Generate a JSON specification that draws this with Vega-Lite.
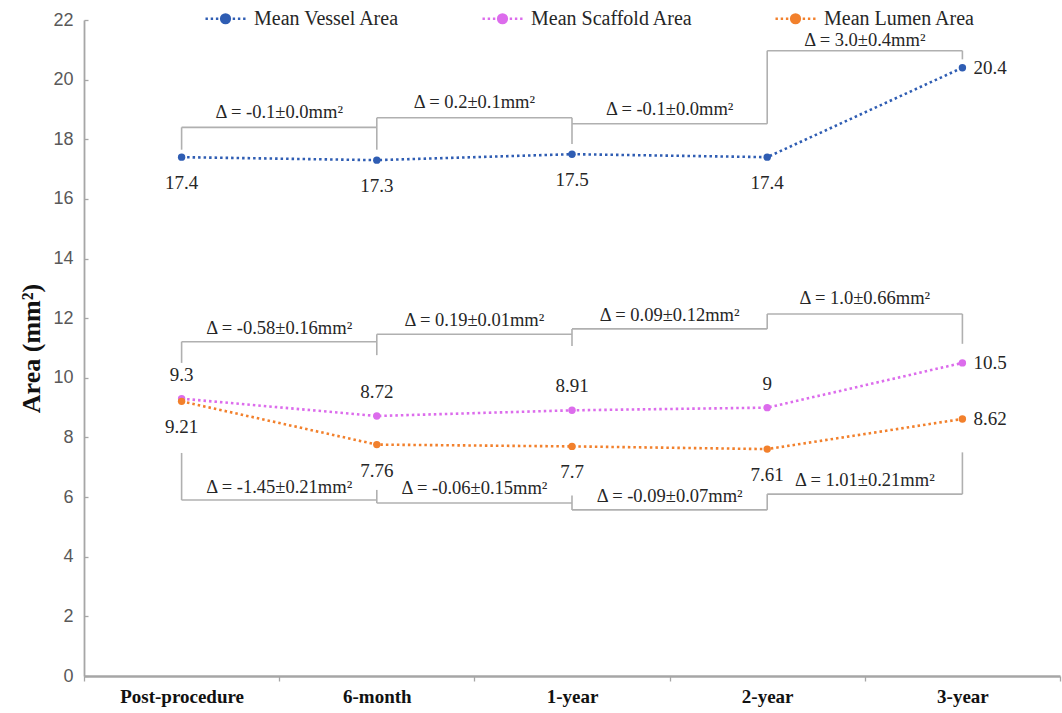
{
  "$schema": "https://vega.github.io/schema/vega-lite/v6.json",
  "width": 976,
  "height": 656,
  "autosize": {"type": "none"},
  "padding": {"left": 84, "top": 20, "right": 2, "bottom": 37},
  "background": "white",
  "config": {"view": {"stroke": null}, "font": "Liberation Serif", "text": {"font": "Liberation Serif"}},
  "datasets": {
    "pts": [
      {"time": "Post-procedure", "series": "Mean Vessel Area", "value": 17.4},
      {"time": "6-month", "series": "Mean Vessel Area", "value": 17.3},
      {"time": "1-year", "series": "Mean Vessel Area", "value": 17.5},
      {"time": "2-year", "series": "Mean Vessel Area", "value": 17.4},
      {"time": "3-year", "series": "Mean Vessel Area", "value": 20.4},
      {"time": "Post-procedure", "series": "Mean Scaffold Area", "value": 9.3},
      {"time": "6-month", "series": "Mean Scaffold Area", "value": 8.72},
      {"time": "1-year", "series": "Mean Scaffold Area", "value": 8.91},
      {"time": "2-year", "series": "Mean Scaffold Area", "value": 9},
      {"time": "3-year", "series": "Mean Scaffold Area", "value": 10.5},
      {"time": "Post-procedure", "series": "Mean Lumen Area", "value": 9.21},
      {"time": "6-month", "series": "Mean Lumen Area", "value": 7.76},
      {"time": "1-year", "series": "Mean Lumen Area", "value": 7.7},
      {"time": "2-year", "series": "Mean Lumen Area", "value": 7.61},
      {"time": "3-year", "series": "Mean Lumen Area", "value": 8.62}
    ],
    "segs": [
      {"time": "Post-procedure", "time2": "Post-procedure", "value": 17.65, "value2": 18.4},
      {"time": "Post-procedure", "time2": "6-month", "value": 18.4, "value2": 18.4},
      {"time": "6-month", "time2": "6-month", "value": 17.65, "value2": 18.72},
      {"time": "6-month", "time2": "1-year", "value": 18.72, "value2": 18.72},
      {"time": "1-year", "time2": "1-year", "value": 17.84, "value2": 18.72},
      {"time": "1-year", "time2": "2-year", "value": 18.52, "value2": 18.52},
      {"time": "2-year", "time2": "2-year", "value": 18.52, "value2": 20.97},
      {"time": "2-year", "time2": "3-year", "value": 20.97, "value2": 20.97},
      {"time": "3-year", "time2": "3-year", "value": 20.68, "value2": 20.97},
      {"time": "Post-procedure", "time2": "Post-procedure", "value": 10.5, "value2": 11.21},
      {"time": "Post-procedure", "time2": "6-month", "value": 11.21, "value2": 11.21},
      {"time": "6-month", "time2": "6-month", "value": 10.76, "value2": 11.46},
      {"time": "6-month", "time2": "1-year", "value": 11.46, "value2": 11.46},
      {"time": "1-year", "time2": "1-year", "value": 11.07, "value2": 11.64},
      {"time": "1-year", "time2": "2-year", "value": 11.64, "value2": 11.64},
      {"time": "2-year", "time2": "2-year", "value": 11.64, "value2": 12.14},
      {"time": "2-year", "time2": "3-year", "value": 12.14, "value2": 12.14},
      {"time": "3-year", "time2": "3-year", "value": 11.14, "value2": 12.14},
      {"time": "Post-procedure", "time2": "Post-procedure", "value": 5.9, "value2": 7.48},
      {"time": "Post-procedure", "time2": "6-month", "value": 5.9, "value2": 5.9},
      {"time": "6-month", "time2": "6-month", "value": 5.8, "value2": 6.24},
      {"time": "6-month", "time2": "1-year", "value": 5.8, "value2": 5.8},
      {"time": "1-year", "time2": "1-year", "value": 5.57, "value2": 6.05},
      {"time": "1-year", "time2": "2-year", "value": 5.57, "value2": 5.57},
      {"time": "2-year", "time2": "2-year", "value": 5.57, "value2": 6.1},
      {"time": "2-year", "time2": "3-year", "value": 6.1, "value2": 6.1},
      {"time": "3-year", "time2": "3-year", "value": 6.1, "value2": 7.5}
    ],
    "deltas": [
      {"time": "Post-procedure", "value": 18.9, "label": "Δ = -0.1±0.0mm²"},
      {"time": "6-month", "value": 19.25, "label": "Δ = 0.2±0.1mm²"},
      {"time": "1-year", "value": 19.03, "label": "Δ = -0.1±0.0mm²"},
      {"time": "2-year", "value": 21.32, "label": "Δ = 3.0±0.4mm²"},
      {"time": "Post-procedure", "value": 11.68, "label": "Δ = -0.58±0.16mm²"},
      {"time": "6-month", "value": 11.93, "label": "Δ = 0.19±0.01mm²"},
      {"time": "1-year", "value": 12.12, "label": "Δ = 0.09±0.12mm²"},
      {"time": "2-year", "value": 12.68, "label": "Δ = 1.0±0.66mm²"},
      {"time": "Post-procedure", "value": 6.34, "label": "Δ = -1.45±0.21mm²"},
      {"time": "6-month", "value": 6.31, "label": "Δ = -0.06±0.15mm²"},
      {"time": "1-year", "value": 6.03, "label": "Δ = -0.09±0.07mm²"},
      {"time": "2-year", "value": 6.58, "label": "Δ = 1.01±0.21mm²"}
    ]
  },
  "layer": [
    {
      "data": {"name": "segs"},
      "mark": {"type": "rule", "color": "#b0b0b0", "strokeWidth": 1.6},
      "encoding": {
        "x": {"field": "time", "type": "nominal", "sort": null, "scale": {"type": "band", "domain": ["Post-procedure", "6-month", "1-year", "2-year", "3-year"], "paddingInner": 0, "paddingOuter": 0},
          "axis": {"title": null, "tickBand": "extent", "domainColor": "#a6a6a6", "domainWidth": 2.6, "tickColor": "#a6a6a6", "tickWidth": 1.3, "tickSize": 5, "labelFont": "Liberation Serif", "labelFontWeight": "bold", "labelFontSize": 19, "labelColor": "#111111", "labelPadding": 6, "labelAngle": 0}},
        "x2": {"field": "time2"},
        "y": {"field": "value", "type": "quantitative", "scale": {"domain": [0, 22], "nice": false},
          "axis": {"title": "Area (mm²)", "values": [0, 2, 4, 6, 8, 10, 12, 14, 16, 18, 20, 22], "grid": false, "domainColor": "#a6a6a6", "domainWidth": 1.8, "tickColor": "#a6a6a6", "tickWidth": 1.3, "tickSize": -4, "labelFont": "Liberation Sans", "labelFontSize": 18, "labelColor": "#595959", "labelPadding": 15, "titleFont": "Liberation Serif", "titleFontWeight": "bold", "titleFontSize": 26, "titleColor": "#111111", "titlePadding": 8}},
        "y2": {"field": "value2"}
      }
    },
    {
      "data": {"name": "deltas"},
      "mark": {"type": "text", "font": "Liberation Serif", "fontSize": 18.5, "color": "#262626", "baseline": "middle", "align": "center"},
      "encoding": {
        "x": {"field": "time", "type": "nominal", "sort": null, "bandPosition": 1},
        "y": {"field": "value", "type": "quantitative"},
        "text": {"field": "label", "type": "nominal"}
      }
    },
    {
      "data": {"name": "pts"},
      "mark": {"type": "line", "strokeWidth": 2.6, "strokeDash": [2.5, 3]},
      "encoding": {
        "x": {"field": "time", "type": "nominal", "sort": null},
        "y": {"field": "value", "type": "quantitative"},
        "color": {
          "field": "series", "type": "nominal",
          "scale": {"domain": ["Mean Vessel Area", "Mean Scaffold Area", "Mean Lumen Area"], "range": ["#2f5db3", "#dc6cec", "#f2802c"]},
          "legend": {
            "title": null, "orient": "none", "direction": "horizontal", "legendX": 120, "legendY": -23,
            "symbolType": "M-1,0H-0.88M-0.74,0H-0.62M-0.48,0H-0.36M0.36,0H0.48M0.62,0H0.74M0.88,0H1M-0.22,0A0.22,0.22,0,1,1,0.22,0A0.22,0.22,0,1,1,-0.22,0Z",
            "symbolSize": 1600, "symbolStrokeWidth": 2.4, "labelFont": "Liberation Serif", "labelFontSize": 20, "labelLimit": 400, "labelColor": "#262626", "labelOffset": 7, "columnPadding": 77,
            "encode": {"symbols": {"update": {"fill": {"scale": "color", "field": "value"}, "stroke": {"scale": "color", "field": "value"}, "strokeDash": {"value": []}}}}
          }
        }
      }
    },
    {
      "data": {"name": "pts"},
      "mark": {"type": "point", "filled": true, "size": 55, "opacity": 1},
      "encoding": {
        "x": {"field": "time", "type": "nominal", "sort": null},
        "y": {"field": "value", "type": "quantitative"},
        "color": {"field": "series", "type": "nominal"}
      }
    },
    {
      "data": {"name": "pts"},
      "transform": [{"filter": "datum.time !== '3-year' && datum.series !== 'Mean Scaffold Area'"}],
      "mark": {"type": "text", "font": "Liberation Serif", "fontSize": 19, "color": "#262626", "dy": 26, "baseline": "middle"},
      "encoding": {
        "x": {"field": "time", "type": "nominal", "sort": null},
        "y": {"field": "value", "type": "quantitative"},
        "text": {"field": "value", "type": "nominal"}
      }
    },
    {
      "data": {"name": "pts"},
      "transform": [{"filter": "datum.time !== '3-year' && datum.series === 'Mean Scaffold Area'"}],
      "mark": {"type": "text", "font": "Liberation Serif", "fontSize": 19, "color": "#262626", "dy": -24, "baseline": "middle"},
      "encoding": {
        "x": {"field": "time", "type": "nominal", "sort": null},
        "y": {"field": "value", "type": "quantitative"},
        "text": {"field": "value", "type": "nominal"}
      }
    },
    {
      "data": {"name": "pts"},
      "transform": [{"filter": "datum.time === '3-year'"}],
      "mark": {"type": "text", "font": "Liberation Serif", "fontSize": 19, "color": "#262626", "dx": 11, "align": "left", "baseline": "middle"},
      "encoding": {
        "x": {"field": "time", "type": "nominal", "sort": null},
        "y": {"field": "value", "type": "quantitative"},
        "text": {"field": "value", "type": "nominal"}
      }
    }
  ]
}
